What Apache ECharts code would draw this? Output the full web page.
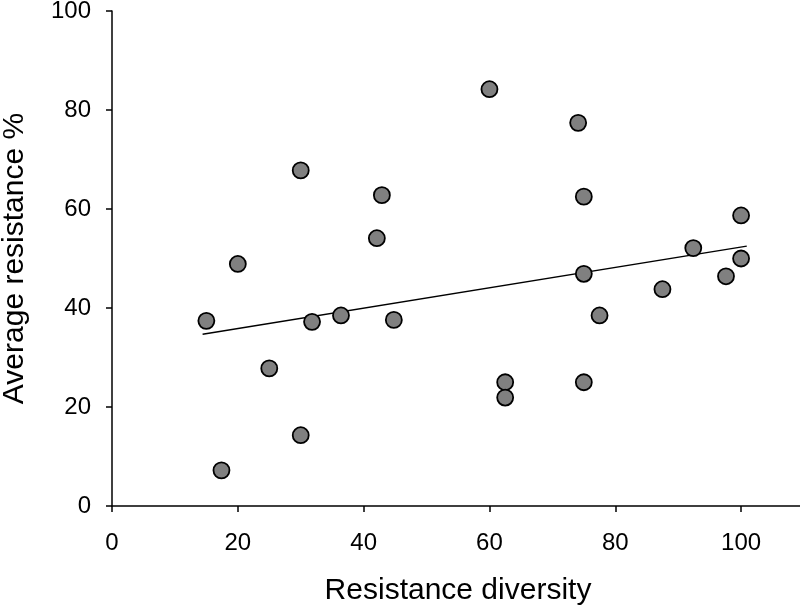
<!DOCTYPE html>
<html>
<head>
<meta charset="utf-8">
<script src="https://cdn.jsdelivr.net/npm/echarts@6/dist/echarts.min.js"></script>
<style>html,body{margin:0;padding:0;background:#fff}#c{width:800px;height:610px}</style>
</head>
<body>
<div id="c"></div>
<script>
const diversity = [15, 17.4, 20, 25, 30, 30, 31.8, 36.4, 42.1, 42.9, 44.8, 60, 62.5, 62.5, 74.1, 75, 75, 75, 77.5, 87.5, 92.4, 97.6, 100, 100];
const resistance = [37.4, 7.2, 48.9, 27.8, 67.8, 14.3, 37.2, 38.5, 54.1, 62.8, 37.6, 84.2, 25, 21.9, 77.4, 62.5, 46.9, 25, 38.5, 43.8, 52.1, 46.4, 58.7, 50.0];
const trendX = [14.4, 100.9];
const trendY = [34.7, 52.5];
const xTicks = [0, 20, 40, 60, 80, 100];
const yTicks = [0, 20, 40, 60, 80, 100];

const points = diversity.map((d, i) => [d, resistance[i]]);
const trend = trendX.map((d, i) => [d, trendY[i]]);
const font = '"Liberation Sans", Arial, sans-serif';

const chart = echarts.init(document.getElementById('c'), null, {renderer: 'canvas'});
chart.setOption({
  animation: false,
  backgroundColor: '#fff',
  grid: {left: 112, width: 692, top: 11, height: 495, containLabel: false, outerBoundsMode: 'none'},
  xAxis: {
    type: 'value', min: 0, max: 110, interval: 20,
    name: 'Resistance diversity', nameLocation: 'middle', nameGap: 70,
    nameTextStyle: {fontFamily: font, fontSize: 30, color: '#000'},
    axisLine: {show: true, onZero: false, lineStyle: {color: '#000', width: 1.5}},
    axisTick: {show: true, length: 6, inside: false, lineStyle: {color: '#000', width: 1.5}},
    axisLabel: {fontFamily: font, fontSize: 24, color: '#000', margin: 25,
      formatter: v => xTicks.includes(v) ? String(v) : ''},
    splitLine: {show: false}
  },
  yAxis: {
    type: 'value', min: 0, max: 100, interval: 20,
    name: 'Average resistance %', nameLocation: 'middle', nameGap: 82, nameRotate: 90,
    nameTextStyle: {fontFamily: font, fontSize: 30, color: '#000'},
    axisLine: {show: true, onZero: false, lineStyle: {color: '#000', width: 1.5}},
    axisTick: {show: true, length: 6, inside: false, lineStyle: {color: '#000', width: 1.5}},
    axisLabel: {fontFamily: font, fontSize: 24, color: '#000', margin: 21,
      formatter: v => yTicks.includes(v) ? String(v) : ''},
    splitLine: {show: false}
  },
  series: [
    {
      type: 'line', data: trend, symbol: 'none', silent: true,
      lineStyle: {color: '#000', width: 1.5}, z: 2
    },
    {
      type: 'scatter', data: points, symbol: 'circle', symbolSize: 16,
      itemStyle: {color: '#808080', borderColor: '#000', borderWidth: 1.8, opacity: 1}, z: 3
    }
  ]
});
</script>
</body>
</html>
